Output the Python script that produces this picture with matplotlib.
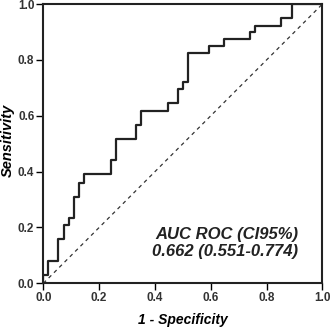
import matplotlib
matplotlib.use("Agg")
import matplotlib.pyplot as plt

plt.rcParams['font.family'] = ['Liberation Sans', 'DejaVu Sans']

# ROC curve corner points
fpr = [0, 0, 0.018, 0.054, 0.075, 0.093, 0.111, 0.129, 0.147, 0.241, 0.26,
       0.332, 0.35, 0.446, 0.482, 0.5, 0.52, 0.595, 0.648, 0.741, 0.76,
       0.852, 0.891, 1.0]
tpr = [0, 0.03, 0.08, 0.16, 0.21, 0.235, 0.31, 0.36, 0.39, 0.44, 0.516,
       0.567, 0.617, 0.644, 0.695, 0.722, 0.823, 0.85, 0.875, 0.899, 0.923,
       0.95, 1.0, 1.0]
ticks = [0.0, 0.2, 0.4, 0.6, 0.8, 1.0]
tick_labels = ['0.0', '0.2', '0.4', '0.6', '0.8', '1.0']
auc_text = "AUC ROC (CI95%)\n0.662 (0.551-0.774)"

fig = plt.figure(figsize=(3.31, 3.27), dpi=100)
ax = fig.add_axes([0.131, 0.1336, 0.843, 0.854])

ax.plot([0, 1], [0, 1], color='#333333', lw=0.9, linestyle=(0, (3, 3)))
ax.step(fpr, tpr, where='post', color='#222222', lw=1.6)

ax.set_xlim(0, 1)
ax.set_ylim(0, 1)
ax.set_xticks(ticks)
ax.set_yticks(ticks)
ax.set_xticklabels(tick_labels, fontsize=8.5, fontweight='bold', color='#333333')
ax.set_yticklabels(tick_labels, fontsize=8.5, fontweight='bold', color='#333333')
ax.tick_params(direction='out', length=5, width=1, pad=1.5)
for s in ax.spines.values():
    s.set_linewidth(1.5)
    s.set_color('#222222')

ax.set_xlabel('1 - Specificity', fontsize=10, fontweight='bold', style='italic', labelpad=6)
# y label placed by hand so it stays inside the small figure
fig.text(8 / 331, 1 - 140 / 327, 'Sensitivity', rotation=90, ha='center', va='center',
         fontsize=10.5, fontweight='bold', style='italic')

ax.text(0.913, 0.145, auc_text, ha='right', va='center', fontsize=12,
        fontweight='bold', style='italic', color='#222222', linespacing=1.15,
        transform=ax.transAxes)

fig.savefig('out.png', dpi=100)
